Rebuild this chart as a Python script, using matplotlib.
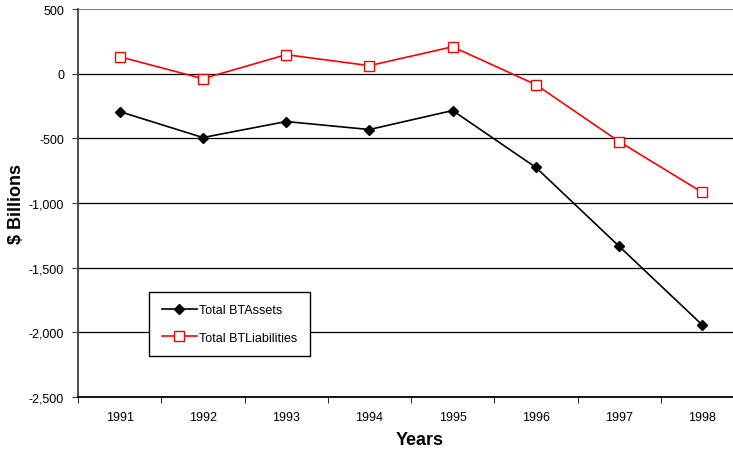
import matplotlib
matplotlib.use("Agg")
import matplotlib.pyplot as plt

plt.rcParams['font.family'] = ['Liberation Sans', 'DejaVu Sans']

years = ["1991", "1992", "1993", "1994", "1995", "1996", "1997", "1998"]
assets = [-293, -494, -370, -432, -285, -725, -1335, -1944]
liabilities = [131, -39, 147, 62, 208, -85, -525, -918]
yticks = [500, 0, -500, -1000, -1500, -2000, -2500]
ytick_labels = ["500", "0", "-500", "-1,000", "-1,500", "-2,000", "-2,500"]

W, H = 733, 452
fig = plt.figure(figsize=(W / 100, H / 100), dpi=100)
ax = fig.add_axes([78 / W, (H - 398) / H, 1 - 78 / W, (398 - 10) / H])

x = list(range(len(years)))
ax.plot(x, assets, color='black', lw=1.2, marker='D', ms=5.5,
        mfc='black', mec='black', label='Total BTAssets', zorder=3)
ax.plot(x, liabilities, color='#ff0000', lw=1.2, marker='s', ms=6.5,
        mfc='white', mec='#ff0000', mew=1.0, label='Total BTLiabilities', zorder=3)

ax.set_yticks(yticks)
ax.set_yticklabels(ytick_labels, fontsize=9)
ax.set_xticks(x)
ax.set_xticklabels(years, fontsize=9)
ax.set_xticks([i + 0.5 for i in range(-1, 7)], minor=True)
ax.set_ylim(-2500, 500)
ax.set_xlim(-0.5, 7.5 - 11 / 83)
ax.tick_params(axis='x', which='major', length=0, pad=10)
ax.tick_params(axis='x', which='minor', length=4, direction='out', color='black')
ax.tick_params(axis='y', length=4, direction='out', color='#404040', pad=6)

for v in yticks[1:-1]:
    ax.axhline(v, color='black', lw=0.9, zorder=1)
ax.axhline(500, color='#808080', lw=1.5, zorder=1)

for s in ['top', 'right']:
    ax.spines[s].set_visible(False)
ax.spines['left'].set_color('#404040')
ax.spines['left'].set_linewidth(1.3)
ax.spines['bottom'].set_color('black')
ax.spines['bottom'].set_linewidth(1.3)

ax.set_ylabel('$ Billions', fontsize=13, fontweight='bold')
ax.yaxis.set_label_coords((25 - 78) / (W - 78), 0.5)
ax.set_xlabel('Years', fontsize=13, fontweight='bold')
ax.xaxis.set_label_coords((420 - 78) / (W - 78), -(449 - 398) / 388)
ax.xaxis.label.set_va('bottom')

leg = ax.legend(loc='upper left', bbox_to_anchor=((149 - 78) / (W - 78), (398 - 293) / 388),
                fontsize=9, frameon=True, fancybox=False, edgecolor='black',
                framealpha=1, handlelength=2.8, borderpad=1.0, labelspacing=1.2,
                handletextpad=0.2, borderaxespad=0)
leg.get_frame().set_linewidth(1.0)

fig.savefig('out.png', dpi=100)
